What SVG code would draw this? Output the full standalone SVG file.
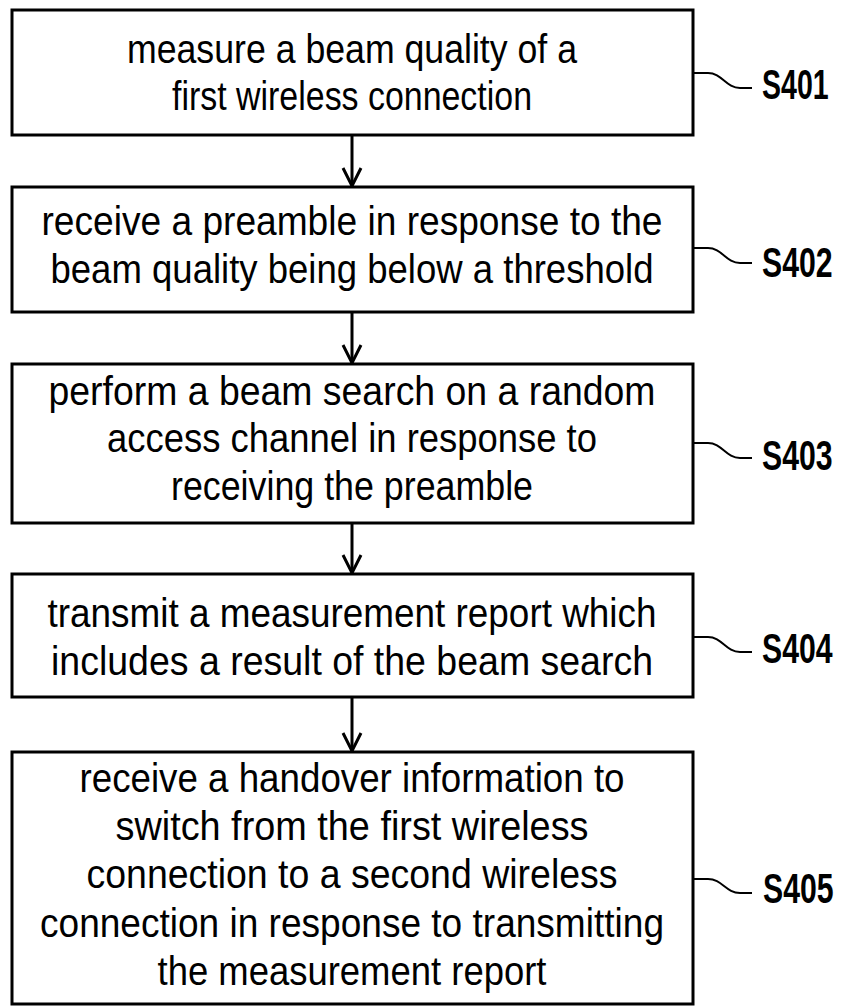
<svg xmlns="http://www.w3.org/2000/svg" width="841" height="1006" viewBox="0 0 841 1006">
<defs>
<style>
.box{fill:#fff;stroke:#000;stroke-width:3}
.t{font-family:"Liberation Sans","DejaVu Sans",sans-serif;font-size:40px;fill:#000;text-anchor:middle}
.lbl{font-family:"Liberation Sans","DejaVu Sans",sans-serif;font-size:42px;font-weight:bold;fill:#000}
.conn{fill:none;stroke:#000;stroke-width:3}
.lead{fill:none;stroke:#000;stroke-width:2}
</style>
<marker id="arr" markerUnits="userSpaceOnUse" markerWidth="24" markerHeight="24" refX="20" refY="10" orient="auto" viewBox="0 0 24 20">
<path d="M2,1 L20,10 L2,19" fill="none" stroke="#000" stroke-width="3"/>
</marker>
</defs>
<rect width="841" height="1006" fill="#fff"/>
<g id="connectors">
<line class="conn" x1="352" y1="135" x2="352" y2="186" marker-end="url(#arr)"/>
<line class="conn" x1="352" y1="312" x2="352" y2="363" marker-end="url(#arr)"/>
<line class="conn" x1="352" y1="523" x2="352" y2="573" marker-end="url(#arr)"/>
<line class="conn" x1="352" y1="697" x2="352" y2="751" marker-end="url(#arr)"/>
</g>
<g id="S401">
<rect class="box" x="12" y="10" width="681" height="125"/>
<text class="t" x="352" y="63" textLength="450" lengthAdjust="spacingAndGlyphs">measure a beam quality of a</text>
<text class="t" x="352" y="110" textLength="360" lengthAdjust="spacingAndGlyphs">first wireless connection</text>
<path class="lead" d="M693,73 H708 C722,73 726,88 740,88 H752"/>
<text class="lbl" transform="translate(762,99) scale(0.68,1)">S401</text>
</g>
<g id="S402">
<rect class="box" x="12" y="187" width="681" height="125"/>
<text class="t" x="352" y="235" textLength="621" lengthAdjust="spacingAndGlyphs">receive a preamble in response to the</text>
<text class="t" x="352" y="283" textLength="603" lengthAdjust="spacingAndGlyphs">beam quality being below a threshold</text>
<path class="lead" d="M693,248 H708 C722,248 726,263 740,263 H752"/>
<text class="lbl" transform="translate(762,277) scale(0.72,1)">S402</text>
</g>
<g id="S403">
<rect class="box" x="12" y="364" width="681" height="159"/>
<text class="t" x="352" y="405" textLength="607" lengthAdjust="spacingAndGlyphs">perform a beam search on a random</text>
<text class="t" x="352" y="452" textLength="490" lengthAdjust="spacingAndGlyphs">access channel in response to</text>
<text class="t" x="352" y="500" textLength="362" lengthAdjust="spacingAndGlyphs">receiving the preamble</text>
<path class="lead" d="M693,443 H708 C722,443 726,458 740,458 H752"/>
<text class="lbl" transform="translate(762,470) scale(0.72,1)">S403</text>
</g>
<g id="S404">
<rect class="box" x="12" y="574" width="681" height="123"/>
<text class="t" x="352" y="627" textLength="609" lengthAdjust="spacingAndGlyphs">transmit a measurement report which</text>
<text class="t" x="352" y="675" textLength="602" lengthAdjust="spacingAndGlyphs">includes a result of the beam search</text>
<path class="lead" d="M693,637 H708 C722,637 726,652 740,652 H752"/>
<text class="lbl" transform="translate(762,663) scale(0.72,1)">S404</text>
</g>
<g id="S405">
<rect class="box" x="12" y="752" width="681" height="252"/>
<text class="t" x="352" y="792" textLength="545" lengthAdjust="spacingAndGlyphs">receive a handover information to</text>
<text class="t" x="352" y="840" textLength="473" lengthAdjust="spacingAndGlyphs">switch from the first wireless</text>
<text class="t" x="352" y="888" textLength="531" lengthAdjust="spacingAndGlyphs">connection to a second wireless</text>
<text class="t" x="352" y="937" textLength="624" lengthAdjust="spacingAndGlyphs">connection in response to transmitting</text>
<text class="t" x="352" y="985" textLength="389" lengthAdjust="spacingAndGlyphs">the measurement report</text>
<path class="lead" d="M693,879 H708 C722,879 726,893 740,893 H752"/>
<text class="lbl" transform="translate(763,903) scale(0.72,1)">S405</text>
</g>
</svg>
